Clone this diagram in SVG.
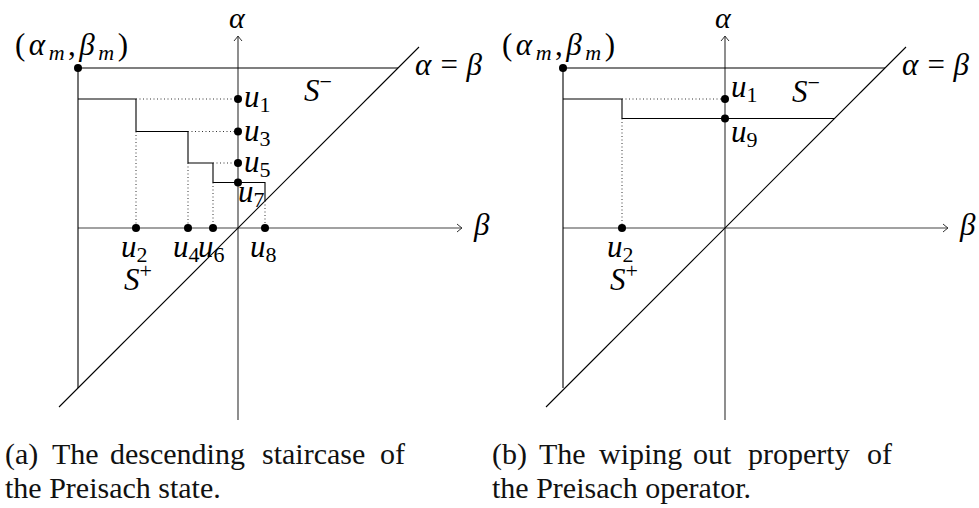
<svg xmlns="http://www.w3.org/2000/svg" width="979" height="508" viewBox="0 0 979 508">
<style>
.ax{stroke:#444;stroke-width:1.2;fill:none}
.ln{stroke:#000;stroke-width:1.1;fill:none}
.dt{stroke:#333;stroke-width:1;stroke-dasharray:1 2.5;fill:none}
.dot{fill:#000}
.m{font-family:"Liberation Serif","Times New Roman",serif;font-style:italic;font-size:31px;fill:#000}
.up{font-style:normal}
.sb{font-size:22px}
.cap{font-family:"Liberation Serif","Times New Roman",serif;font-size:30px;fill:#111}
</style>
<defs>
<marker id="to" viewBox="-6 -5 8 10" markerWidth="8" markerHeight="10" refX="0" refY="0" orient="auto" markerUnits="userSpaceOnUse">
<path d="M-5,-4 Q-1.5,-1 0,0 Q-1.5,1 -5,4" fill="none" stroke="#333" stroke-width="1"/>
</marker>
</defs>

<g id="panel-a">
  <g id="a-axes">
    <line class="ax" x1="238" y1="420" x2="238" y2="36" marker-end="url(#to)"/>
    <line class="ax" x1="78" y1="228" x2="462" y2="228" marker-end="url(#to)"/>
    <text class="m" x="229" y="28" style="font-size:30px">α</text>
    <text class="m" x="474" y="235">β</text>
  </g>
  <g id="a-region">
    <line class="ln" x1="78" y1="68" x2="398" y2="68"/>
    <line class="ln" x1="78" y1="68" x2="78" y2="388"/>
    <line class="ln" x1="59" y1="407" x2="419" y2="47"/>
    <text class="m" x="415" y="75" textLength="67" lengthAdjust="spacing">α = β</text>
    <text class="m" x="15" y="55" textLength="113" lengthAdjust="spacing"><tspan class="up">(</tspan>α<tspan class="sb" dy="5">m</tspan><tspan class="up" dy="-5">,</tspan>β<tspan class="sb" dy="5">m</tspan><tspan class="up" dy="-5">)</tspan></text>
    <circle class="dot" cx="78" cy="68" r="4"/>
  </g>
  <g id="a-staircase">
    <path class="ln" d="M78,99 H136 V131.5 H188 V163 H213 V182.5 H265 V201"/>
    <path class="dt" d="M136,99 H238 M188,131.5 H238 M213,163 H238 M136,131.5 V228 M188,163 V228 M213,182.5 V228 M265,201 V228"/>
  </g>
  <g id="a-points">
    <circle class="dot" cx="238" cy="99" r="4"/>
    <circle class="dot" cx="238" cy="131.5" r="4"/>
    <circle class="dot" cx="238" cy="163" r="4"/>
    <circle class="dot" cx="238" cy="182.5" r="4"/>
    <circle class="dot" cx="136" cy="228" r="4"/>
    <circle class="dot" cx="188" cy="228" r="4"/>
    <circle class="dot" cx="213" cy="228" r="4"/>
    <circle class="dot" cx="265" cy="228" r="4"/>
    <text class="m" x="244" y="107">u<tspan class="sb up" dy="5">1</tspan></text>
    <text class="m" x="244" y="141">u<tspan class="sb up" dy="5">3</tspan></text>
    <text class="m" x="244" y="172">u<tspan class="sb up" dy="5">5</tspan></text>
    <text class="m" x="238" y="202">u<tspan class="sb up" dy="5">7</tspan></text>
    <text class="m" x="121" y="257">u<tspan class="sb up" dy="5">2</tspan></text>
    <text class="m" x="173" y="257">u<tspan class="sb up" dy="5">4</tspan></text>
    <text class="m" x="198" y="257">u<tspan class="sb up" dy="5">6</tspan></text>
    <text class="m" x="250" y="257">u<tspan class="sb up" dy="5">8</tspan></text>
    <text class="m" x="124" y="290">S<tspan class="sb up" dy="-12">+</tspan></text>
    <text class="m" x="304" y="101">S<tspan class="sb up" dy="-12">−</tspan></text>
  </g>
  <g id="a-caption">
    <text class="cap" x="5" y="464">(a)</text>
    <text class="cap" x="52" y="464">The</text>
    <text class="cap" x="110" y="464">descending</text>
    <text class="cap" x="262" y="464">staircase</text>
    <text class="cap" x="380" y="464">of</text>
    <text class="cap" x="5" y="498">the Preisach state.</text>
  </g>
</g>

<g id="panel-b">
  <g id="b-axes">
    <line class="ax" x1="725" y1="420" x2="725" y2="36" marker-end="url(#to)"/>
    <line class="ax" x1="563" y1="228" x2="948" y2="228" marker-end="url(#to)"/>
    <text class="m" x="715" y="28" style="font-size:30px">α</text>
    <text class="m" x="960" y="235">β</text>
  </g>
  <g id="b-region">
    <line class="ln" x1="563" y1="68" x2="885" y2="68"/>
    <line class="ln" x1="563" y1="68" x2="563" y2="388"/>
    <line class="ln" x1="546" y1="407" x2="906" y2="47"/>
    <text class="m" x="902" y="75" textLength="67" lengthAdjust="spacing">α = β</text>
    <text class="m" x="502" y="55" textLength="113" lengthAdjust="spacing"><tspan class="up">(</tspan>α<tspan class="sb" dy="5">m</tspan><tspan class="up" dy="-5">,</tspan>β<tspan class="sb" dy="5">m</tspan><tspan class="up" dy="-5">)</tspan></text>
    <circle class="dot" cx="563" cy="68" r="4"/>
  </g>
  <g id="b-staircase">
    <path class="ln" d="M563,99 H622 V118.5 H834.5"/>
    <path class="dt" d="M622,99 H725 M622,118.5 V228"/>
  </g>
  <g id="b-points">
    <circle class="dot" cx="725" cy="99" r="4"/>
    <circle class="dot" cx="725" cy="118.5" r="4"/>
    <circle class="dot" cx="622" cy="228" r="4"/>
    <text class="m" x="731" y="97">u<tspan class="sb up" dy="5">1</tspan></text>
    <text class="m" x="731" y="142">u<tspan class="sb up" dy="5">9</tspan></text>
    <text class="m" x="607" y="257">u<tspan class="sb up" dy="5">2</tspan></text>
    <text class="m" x="610" y="290">S<tspan class="sb up" dy="-12">+</tspan></text>
    <text class="m" x="792" y="102">S<tspan class="sb up" dy="-12">−</tspan></text>
  </g>
  <g id="b-caption">
    <text class="cap" x="492" y="464">(b)</text>
    <text class="cap" x="539" y="464">The</text>
    <text class="cap" x="599" y="464">wiping</text>
    <text class="cap" x="693" y="464">out</text>
    <text class="cap" x="748" y="464">property</text>
    <text class="cap" x="867" y="464">of</text>
    <text class="cap" x="492" y="498">the Preisach operator.</text>
  </g>
</g>
</svg>
